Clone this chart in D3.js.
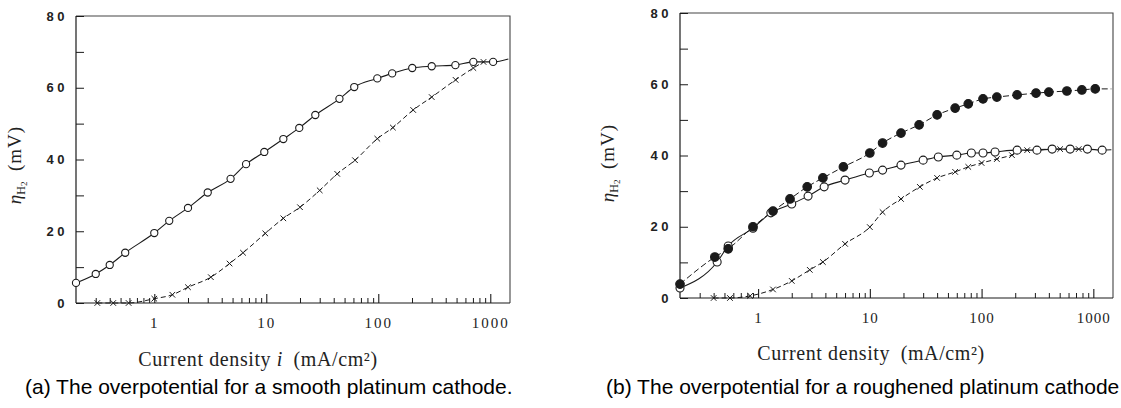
<!DOCTYPE html>
<html><head><meta charset="utf-8">
<script src="https://cdn.jsdelivr.net/npm/d3@7"></script>
<style>body{margin:0;background:#fff}svg{display:block}</style>
</head><body><svg id="c" width="1121" height="408"></svg>
<script>
// ---- data ----
const xTickValues = [1, 10, 100, 1000];
const xTickLabels = ["1", "10", "100", "1000"];
const yTickValues = [0, 20, 40, 60, 80];
const yMinorValues = [10, 30, 50, 70];

// (a) smooth platinum cathode
const aOpenX = [0.2, 0.3, 0.4, 0.55, 1, 1.36, 2, 3, 4.8, 6.6, 9.6, 14.2, 19.7, 27.4, 45, 61, 98, 133, 201, 300, 488, 706, 1060];
const aOpenY = [5.6, 8.1, 10.6, 14, 19.5, 22.9, 26.5, 30.8, 34.6, 38.7, 42.1, 45.7, 48.8, 52.4, 56.9, 60.2, 62.6, 64, 65.5, 66, 66.3, 67.2, 67.2];
const aOpenTail = [1450, 68];
const aCrossX = [0.31, 0.43, 0.59, 1, 1.45, 2, 3.2, 4.7, 6.2, 9.8, 14.2, 20, 30, 43, 62, 98, 135, 205, 300, 490, 706, 870];
const aCrossY = [0, 0, 0, 1.2, 2.3, 4.4, 7.2, 11, 14, 19.4, 23.6, 26.7, 31.4, 36, 39.8, 45.8, 48.9, 53.8, 57.4, 62.2, 65.5, 67.2];

// (b) roughened platinum cathode
const bFilledX = [0.2, 0.41, 0.54, 0.9, 1.36, 1.93, 2.75, 3.8, 5.8, 10, 13, 19, 27.6, 40, 58, 76, 103, 137, 208, 307, 400, 580, 790, 1040];
const bFilledY = [3.9, 11.5, 13.8, 20, 24.4, 27.8, 31.2, 33.7, 36.8, 40.7, 43.5, 46.3, 48.6, 51.4, 53.3, 54.5, 55.9, 56.4, 57, 57.5, 57.8, 58.1, 58.4, 58.7];
const bFilledTail = [1450, 58.7];
const bOpenX = [0.2, 0.43, 0.54, 0.9, 1.3, 2.0, 2.8, 3.9, 6.0, 9.9, 13, 19, 30, 41, 60, 81, 103, 132, 208, 313, 428, 620, 885, 1200];
const bOpenY = [2.8, 10.1, 14.6, 19.6, 23.9, 26.4, 28.6, 31.2, 33.1, 35.1, 35.9, 37.3, 38.7, 39.6, 40.1, 40.7, 40.7, 41, 41.5, 41.5, 41.8, 41.8, 41.8, 41.5];
const bOpenTail = [1450, 41.6];
const bCrossX = [0.4, 0.56, 0.85, 1.36, 2, 2.9, 3.8, 6, 10, 13, 19, 28, 40, 58, 76, 100, 137, 187, 256, 505, 740];
const bCrossY = [0, 0, 0.6, 2.4, 4.8, 7.9, 10.1, 15.2, 19.9, 24.1, 27.8, 31.2, 33.7, 35.4, 36.8, 37.9, 39, 40.1, 41.5, 41.8, 41.8];

const xDomain = [0.2, 1500];
const yDomain = [0, 80];

// ---- drawing ----
const svg = d3.select("#c");
const ink = "#1a1a1a";

function zip(xs, ys) { return xs.map((x, i) => ({x: x, y: ys[i]})); }

function panel(o) {
  const x = d3.scaleLog().domain(xDomain).range([o.left, o.right]);
  const y = d3.scaleLinear().domain(yDomain).range([o.bottom, o.top]);
  const g = svg.append("g");

  // frame (top + right)
  g.append("path")
    .attr("d", `M${o.left},${y(80)}H${o.right}V${o.bottom}`)
    .attr("fill", "none").attr("stroke", "#444").attr("stroke-width", 1.1);

  // x axis minor ticks
  const minor = [];
  [0.1, 1, 10, 100].forEach(d => { for (let k = 2; k <= 9; k++) { const v = d * k; if (v > xDomain[0] * 1.05 && v < xDomain[1]) minor.push(v); } });
  g.append("g").attr("transform", `translate(0,${o.bottom})`)
    .call(d3.axisBottom(x).tickValues(minor).tickSize(-5).tickSizeOuter(0).tickFormat(""))
    .call(s => s.select(".domain").remove())
    .call(s => s.selectAll("line").attr("stroke", ink).attr("stroke-width", 1));
  const xa = g.append("g").attr("transform", `translate(0,${o.bottom})`)
    .call(d3.axisBottom(x).tickValues(xTickValues).tickSize(-9).tickSizeOuter(0).tickPadding(14)
      .tickFormat((d, i) => xTickLabels[i]));
  xa.select(".domain").attr("d", `M${o.left},0H${o.right}`).attr("stroke", ink).attr("stroke-width", 1.2);
  xa.selectAll("line").attr("stroke", ink).attr("stroke-width", 1.1);
  xa.selectAll("text").attr("font-family", "Liberation Serif, serif").attr("font-size", 15)
    .attr("letter-spacing", o.xls).attr("fill", "#222");

  // y axis
  g.append("g").attr("transform", `translate(${o.left},0)`)
    .call(d3.axisLeft(y).tickValues(yMinorValues).tickSize(-8).tickSizeOuter(0).tickFormat(""))
    .call(s => s.select(".domain").remove())
    .call(s => s.selectAll("line").attr("stroke", ink));
  const ya = g.append("g").attr("transform", `translate(${o.left},0)`)
    .call(d3.axisLeft(y).tickValues(yTickValues).tickSize(-8).tickSizeOuter(0).tickPadding(8).tickFormat(d3.format("d")));
  ya.select(".domain").attr("d", `M0,${o.top}V${o.bottom}`).attr("stroke", ink).attr("stroke-width", 1.2);
  ya.selectAll("line").attr("stroke", ink);
  ya.selectAll("text").attr("font-family", "Liberation Sans, Arial, sans-serif").attr("font-size", 13)
    .attr("font-weight", "bold").attr("letter-spacing", 3.5).attr("fill", "#222");

  // y label
  const yl = g.append("text")
    .attr("transform", `translate(${o.ylx},${o.yly}) rotate(-90)`)
    .attr("text-anchor", "middle").attr("font-family", "Liberation Serif, serif")
    .attr("font-size", 19).attr("fill", "#222");
  yl.append("tspan").attr("font-style", "italic").text("η");
  yl.append("tspan").attr("font-size", 12).attr("dy", 4).text("H");
  yl.append("tspan").attr("font-size", 9).attr("dy", 2).text("2");
  yl.append("tspan").attr("dy", -6).attr("letter-spacing", 1).text("\u2002(mV)");

  // x label
  const xl = g.append("text").attr("x", o.xlx).attr("y", o.xly).attr("text-anchor", "middle")
    .attr("font-family", "Liberation Serif, serif").attr("font-size", 20).attr("fill", "#222")
    .attr("letter-spacing", 0.6);
  o.xlabel.forEach(p => xl.append("tspan").attr("font-style", p[1] ? "italic" : "normal").text(p[0]));

  // caption
  svg.append("text").attr("x", o.capx).attr("y", 394)
    .attr("font-family", "Liberation Sans, Arial, sans-serif").attr("font-size", 21).attr("fill", "#000")
    .text(o.caption);

  return {x, y, g};
}

function drawLine(p, pts, dash, w) {
  p.g.append("path").datum(pts)
    .attr("d", d3.line().x(d => p.x(d.x)).y(d => p.y(d.y)).curve(d3.curveMonotoneX))
    .attr("fill", "none").attr("stroke", ink).attr("stroke-width", w || 1)
    .attr("stroke-dasharray", dash || null);
}
function drawCircles(p, pts, r, filled) {
  p.g.append("g").selectAll("circle").data(pts).join("circle")
    .attr("cx", d => p.x(d.x)).attr("cy", d => p.y(d.y)).attr("r", r)
    .attr("fill", filled ? ink : "#fff").attr("stroke", ink).attr("stroke-width", 1.1);
}
function drawCrosses(p, pts, s) {
  p.g.append("g").selectAll("path").data(pts).join("path")
    .attr("d", d => { const cx = p.x(d.x), cy = p.y(d.y);
      return `M${cx - s},${cy - s}L${cx + s},${cy + s}M${cx - s},${cy + s}L${cx + s},${cy - s}`; })
    .attr("stroke", ink).attr("stroke-width", 1);
}

const pa = panel({left: 76, right: 510, top: 16, bottom: 303, xls: 2,
  ylx: 21, yly: 165, xlx: 258, xly: 366,
  xlabel: [["Current density "], ["i", true], ["\u2002(mA/cm²)"]],
  capx: 25, caption: "(a) The overpotential for a smooth platinum cathode."});
const pb = panel({left: 680, right: 1113, top: 13, bottom: 298, xls: 1,
  ylx: 614, yly: 163, xlx: 871, xly: 360,
  xlabel: [["Current density"], ["\u2002(mA/cm²)"]],
  capx: 606, caption: "(b) The overpotential for a roughened platinum cathode"});

// (a)
const aOpen = zip(aOpenX, aOpenY), aCross = zip(aCrossX, aCrossY);
drawLine(pa, aOpen.concat([{x: aOpenTail[0], y: aOpenTail[1]}]), null, 1.1);
drawLine(pa, aCross, "5,3", 1);
drawCrosses(pa, aCross, 2.8);
drawCircles(pa, aOpen, 3.6, false);

// (b)
const bFilled = zip(bFilledX, bFilledY), bOpen = zip(bOpenX, bOpenY), bCross = zip(bCrossX, bCrossY);
drawLine(pb, bFilled.concat([{x: bFilledTail[0], y: bFilledTail[1]}]), "6,3", 1);
drawLine(pb, bOpen.concat([{x: bOpenTail[0], y: bOpenTail[1]}]), null, 1.1);
drawLine(pb, bCross, "5,3", 1);
drawCrosses(pb, bCross, 2.8);
drawCircles(pb, bOpen, 4, false);
drawCircles(pb, bFilled, 4.3, true);
</script></body></html>
